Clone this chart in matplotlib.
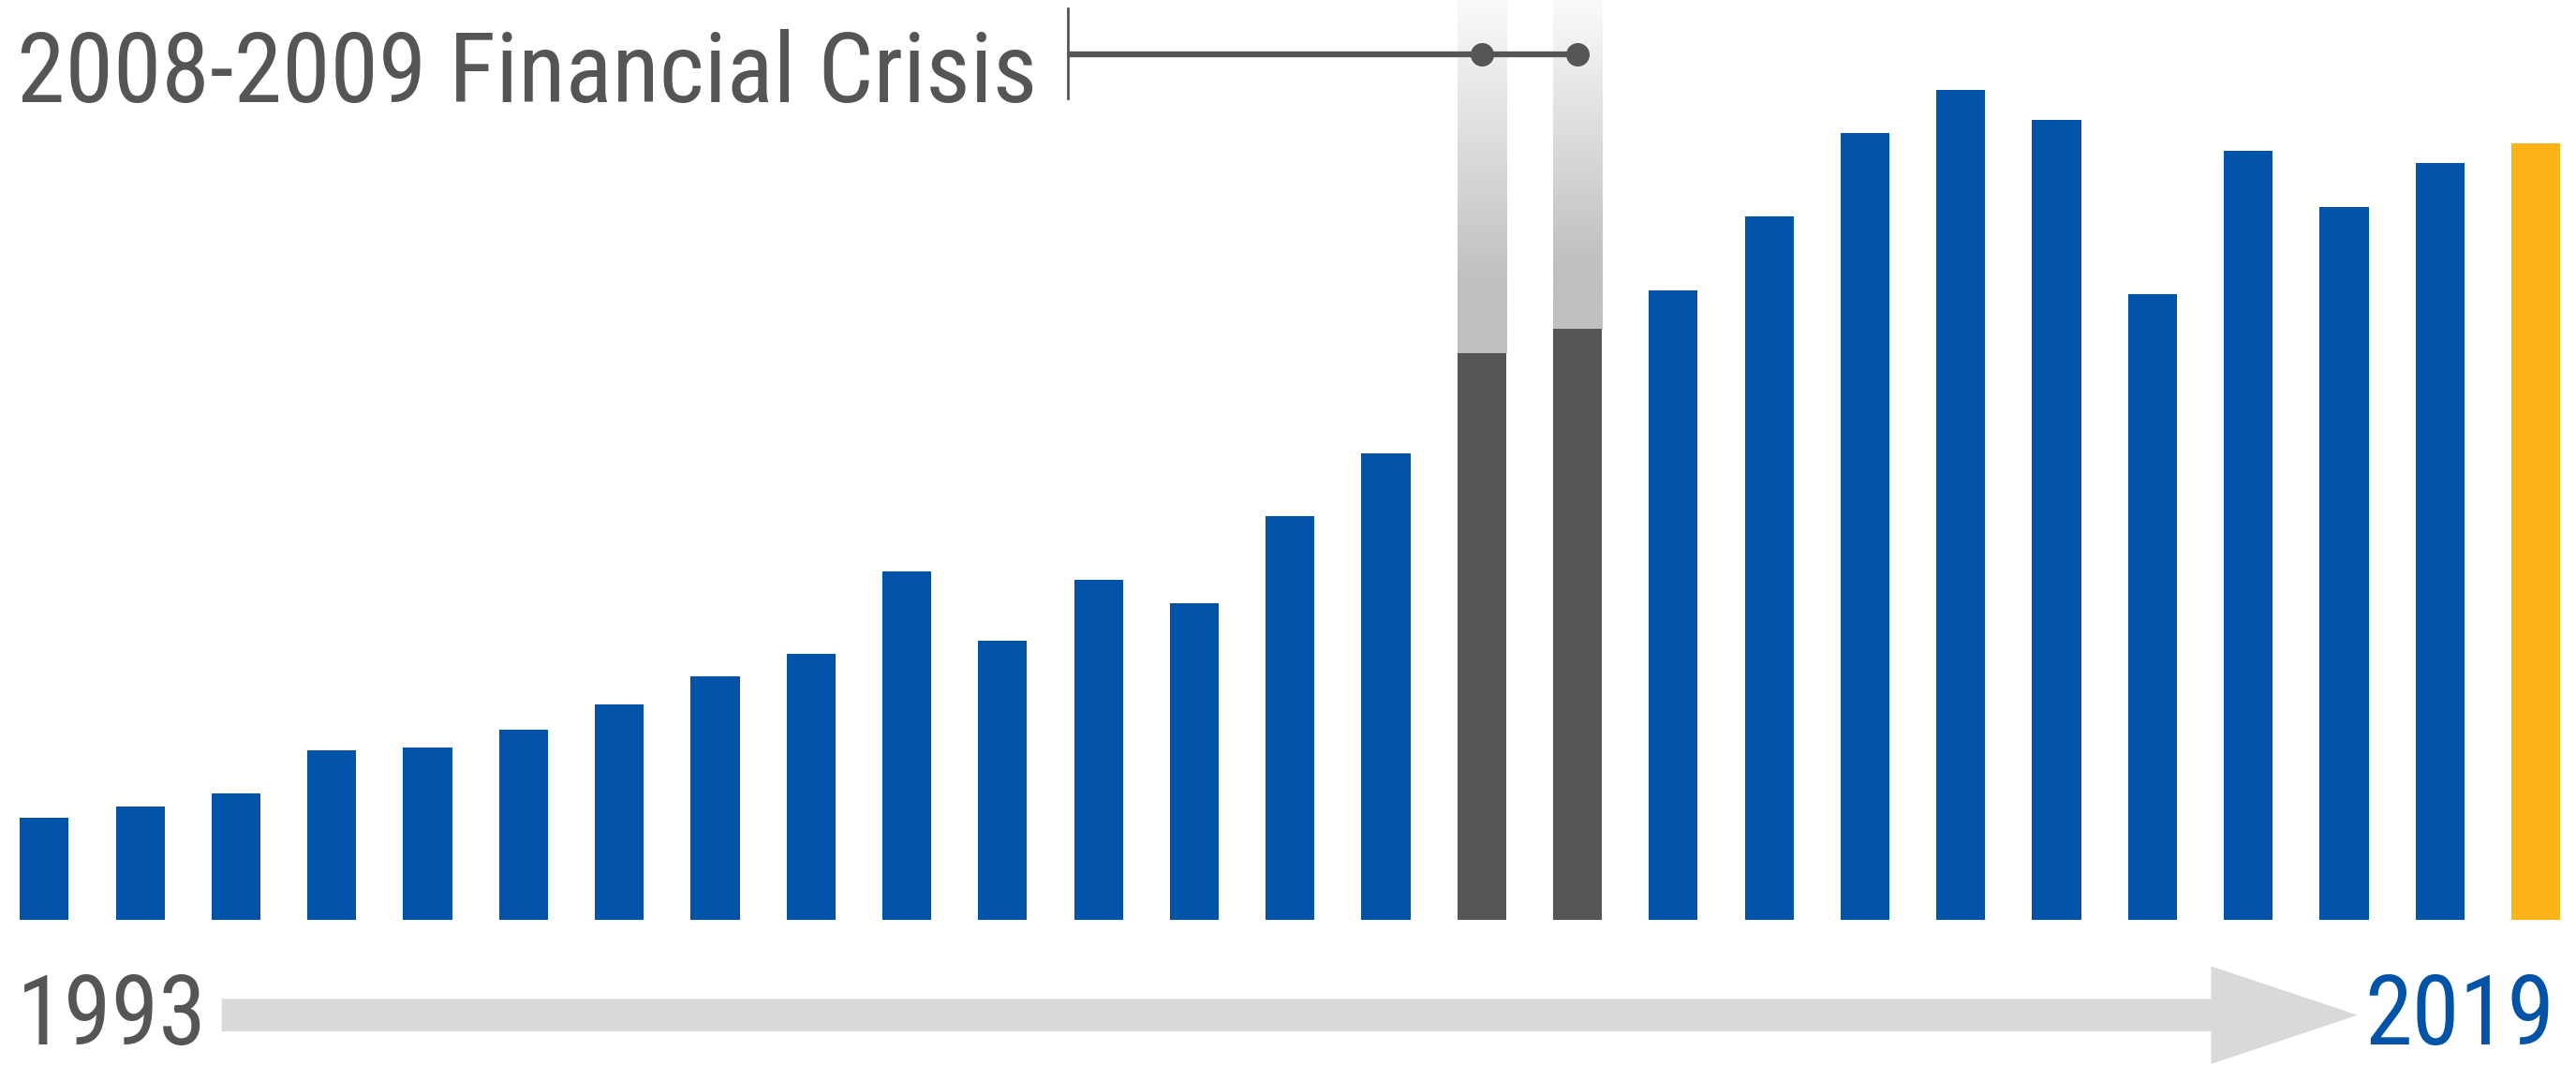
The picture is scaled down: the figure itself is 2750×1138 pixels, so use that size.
import numpy as np
import matplotlib.pyplot as plt
from matplotlib.colors import LinearSegmentedColormap

# Dados (unidades arbitrarias)
years = list(range(1993, 2020))
values = [62, 69, 77, 103, 105, 116, 131, 148, 162, 212, 170, 207, 193, 246, 284,
          345, 360, 383, 428, 479, 505, 487, 381, 468, 434, 461, 473]
crisis_years = [2008, 2009]

blue = '#0053a6'
dark = '#555555'
gold = '#fbb317'
light = '#d9d9d9'

colors = []
for y in years:
    if y in crisis_years:
        colors.append(dark)
    elif y == years[-1]:
        colors.append(gold)
    else:
        colors.append(blue)

fig = plt.figure(figsize=(27.5, 11.38), dpi=100)
ax = fig.add_axes([0, 0, 1, 1])
idx = np.arange(len(years))
width = 0.51

# colunas em degrade atras das barras da crise
top = 560
cmap = LinearSegmentedColormap.from_list('fade', ['#fafafa', '#c0c0c0'])
for y in crisis_years:
    i = years.index(y)
    grad = np.clip(np.linspace(0, 1, 256).reshape(-1, 1) * 1.25, 0, 1)
    ax.imshow(grad, cmap=cmap, extent=(i - width / 2, i + width / 2, values[i], top),
              aspect='auto', zorder=1, interpolation='bicubic')

ax.bar(idx, values, width=width, color=colors, zorder=2)

ax.set_xlim(-0.463, 26.42)
ax.set_ylim(-89, 560)
ax.axis('off')

font = ['Roboto Condensed', 'Roboto', 'DejaVu Sans']

# anotacao da crise
i0, i1 = years.index(crisis_years[0]), years.index(crisis_years[1])
ax.plot([10.68, i1], [527, 527], color=dark, lw=4.5, zorder=3, solid_capstyle='butt')
ax.plot([i0, i1], [527, 527], 'o', color=dark, ms=17, zorder=4)
ax.plot([10.68, 10.68], [500, 555], color=dark, lw=2, zorder=3)
ax.text(10 / 1568, 1 - 62 / 649, '2008-2009 Financial Crisis', transform=ax.transAxes,
        family=font, fontsize=75, color=dark, ha='left', va='baseline')

# linha do tempo
ax.annotate('', xy=(1435 / 1568, 1 - 618 / 649), xytext=(135 / 1568, 1 - 618 / 649),
            xycoords='axes fraction', textcoords='axes fraction',
            arrowprops=dict(arrowstyle='simple,head_length=4.5,head_width=3,tail_width=1',
                            mutation_scale=25, color=light, lw=0, shrinkA=0, shrinkB=0))
ax.text(10 / 1568, 0.002, str(years[0]), transform=ax.transAxes, family=font,
        fontsize=74, color=dark, ha='left', va='bottom')
ax.text(1555 / 1568, 0.002, str(years[-1]), transform=ax.transAxes, family=font,
        fontsize=74, color=blue, ha='right', va='bottom')

fig.savefig('out.png', dpi=100, facecolor='white')
